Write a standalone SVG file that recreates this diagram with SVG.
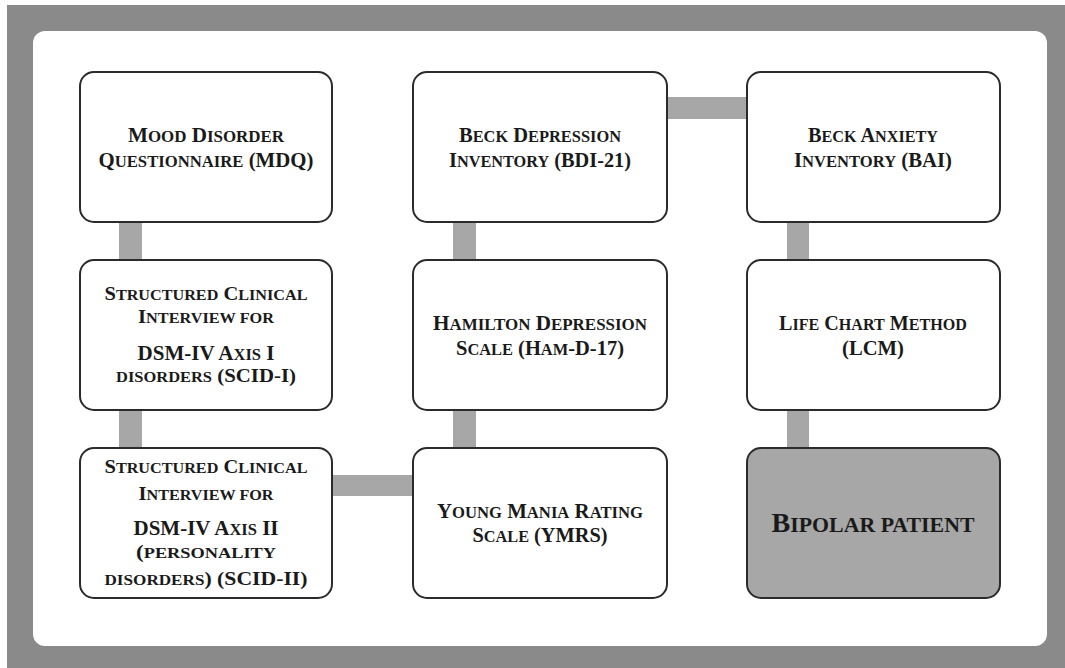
<svg xmlns="http://www.w3.org/2000/svg" width="1065" height="668" viewBox="0 0 1065 668">
<style>
.box{fill:#ffffff;stroke:#2b2b2b;stroke-width:2}
.dark{fill:#a7a7a7;stroke:#2b2b2b;stroke-width:2}
.bar{fill:#a7a7a7}
text{font-family:"Liberation Serif","DejaVu Serif",serif;font-weight:bold;fill:#1a1a1a;text-anchor:middle;font-size:20px}
tspan.s{font-size:16px}
text.m{font-size:19px}
text.m tspan.s{font-size:15px}
text.big{font-size:21px}
text.big tspan.s{font-size:16.5px}
text.huge{font-size:27px}
text.huge tspan.s{font-size:21px}
</style>
<rect x="0" y="0" width="1065" height="668" fill="#ffffff"/>
<rect x="7" y="5" width="1058" height="663" fill="#8a8a8a"/>
<rect x="33" y="31" width="1014" height="615" rx="12" fill="#ffffff"/>
<g id="connectors">
<rect class="bar" x="119" y="221" width="23" height="40"/>
<rect class="bar" x="119" y="409" width="23" height="40"/>
<rect class="bar" x="331" y="475" width="83" height="21"/>
<rect class="bar" x="453" y="221" width="23" height="40"/>
<rect class="bar" x="453" y="409" width="23" height="40"/>
<rect class="bar" x="666" y="97" width="82" height="22"/>
<rect class="bar" x="787" y="221" width="22" height="40"/>
<rect class="bar" x="787" y="409" width="22" height="40"/>
</g>
<g id="mdq">
<rect class="box" x="80" y="72" width="252" height="150" rx="14"/>
<text x="206" y="142" textLength="156" lengthAdjust="spacingAndGlyphs">M<tspan class="s">OOD</tspan> D<tspan class="s">ISORDER</tspan></text>
<text x="206" y="167" textLength="215" lengthAdjust="spacingAndGlyphs">Q<tspan class="s">UESTIONNAIRE</tspan> (MDQ)</text>
</g>
<g id="scid1">
<rect class="box" x="80" y="260" width="252" height="150" rx="14"/>
<text class="m" x="206" y="300" textLength="203" lengthAdjust="spacingAndGlyphs">S<tspan class="s">TRUCTURED</tspan> C<tspan class="s">LINICAL</tspan></text>
<text class="m" x="206" y="323" textLength="136" lengthAdjust="spacingAndGlyphs">I<tspan class="s">NTERVIEW FOR</tspan></text>
<text class="big" x="206" y="360" textLength="137" lengthAdjust="spacingAndGlyphs">DSM-IV A<tspan class="s">XIS</tspan> I</text>
<text class="m" x="206" y="382" textLength="180" lengthAdjust="spacingAndGlyphs"><tspan class="s">DISORDERS</tspan> (SCID-I)</text>
</g>
<g id="scid2">
<rect class="box" x="80" y="448" width="252" height="150" rx="14"/>
<text class="m" x="206" y="473" textLength="203" lengthAdjust="spacingAndGlyphs">S<tspan class="s">TRUCTURED</tspan> C<tspan class="s">LINICAL</tspan></text>
<text class="m" x="206" y="500" textLength="135" lengthAdjust="spacingAndGlyphs">I<tspan class="s">NTERVIEW FOR</tspan></text>
<text class="big" x="206" y="535" textLength="145" lengthAdjust="spacingAndGlyphs">DSM-IV A<tspan class="s">XIS</tspan> II</text>
<text class="m" x="206" y="558" textLength="140" lengthAdjust="spacingAndGlyphs">(<tspan class="s">PERSONALITY</tspan></text>
<text class="m" x="206" y="585" textLength="203" lengthAdjust="spacingAndGlyphs"><tspan class="s">DISORDERS</tspan>) (SCID-II)</text>
</g>
<g id="bdi">
<rect class="box" x="413" y="72" width="254" height="150" rx="14"/>
<text x="540" y="142" textLength="162" lengthAdjust="spacingAndGlyphs">B<tspan class="s">ECK</tspan> D<tspan class="s">EPRESSION</tspan></text>
<text x="540" y="167" textLength="182" lengthAdjust="spacingAndGlyphs">I<tspan class="s">NVENTORY</tspan> (BDI-21)</text>
</g>
<g id="ham">
<rect class="box" x="413" y="260" width="254" height="150" rx="14"/>
<text x="540" y="330" textLength="214" lengthAdjust="spacingAndGlyphs">H<tspan class="s">AMILTON</tspan> D<tspan class="s">EPRESSION</tspan></text>
<text x="540" y="355" textLength="168" lengthAdjust="spacingAndGlyphs">S<tspan class="s">CALE</tspan> (H<tspan class="s">AM</tspan>-D-17)</text>
</g>
<g id="ymrs">
<rect class="box" x="413" y="448" width="254" height="150" rx="14"/>
<text x="540" y="518" textLength="206" lengthAdjust="spacingAndGlyphs">Y<tspan class="s">OUNG</tspan> M<tspan class="s">ANIA</tspan> R<tspan class="s">ATING</tspan></text>
<text x="540" y="542" textLength="135" lengthAdjust="spacingAndGlyphs">S<tspan class="s">CALE</tspan> (YMRS)</text>
</g>
<g id="bai">
<rect class="box" x="747" y="72" width="253" height="150" rx="14"/>
<text x="873" y="142" textLength="130" lengthAdjust="spacingAndGlyphs">B<tspan class="s">ECK</tspan> A<tspan class="s">NXIETY</tspan></text>
<text x="873" y="167" textLength="158" lengthAdjust="spacingAndGlyphs">I<tspan class="s">NVENTORY</tspan> (BAI)</text>
</g>
<g id="lcm">
<rect class="box" x="747" y="260" width="253" height="150" rx="14"/>
<text x="873" y="330" textLength="188" lengthAdjust="spacingAndGlyphs">L<tspan class="s">IFE</tspan> C<tspan class="s">HART</tspan> M<tspan class="s">ETHOD</tspan></text>
<text x="873" y="355" textLength="62" lengthAdjust="spacingAndGlyphs">(LCM)</text>
</g>
<g id="bipolar">
<rect class="dark" x="747" y="448" width="253" height="150" rx="14"/>
<text class="huge" x="873" y="532" textLength="203" lengthAdjust="spacingAndGlyphs">B<tspan class="s">IPOLAR PATIENT</tspan></text>
</g>
</svg>
